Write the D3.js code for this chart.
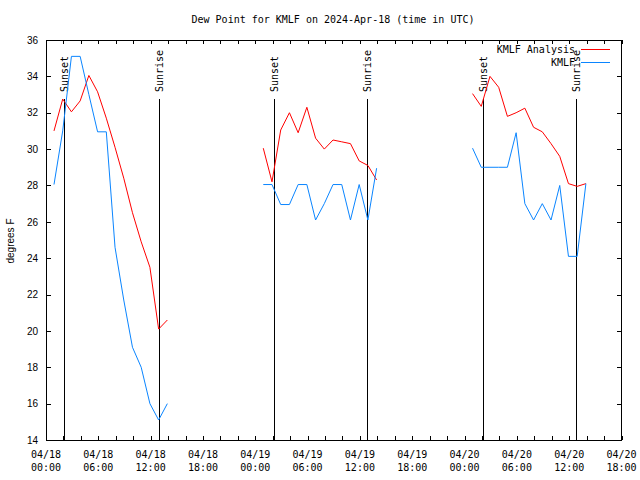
<!DOCTYPE html>
<html>
<head>
<meta charset="utf-8">
<script src="https://cdn.jsdelivr.net/npm/d3@7"></script>
<style>
  body { margin: 0; background: #fff; }
  svg { display: block; }
  .mono { font-family: "DejaVu Sans Mono", monospace; font-size: 10px; fill: #000; }
  .sans { font-family: "Liberation Sans", Arial, sans-serif; font-size: 10px; fill: #000; }
  .axis path { display: none; }
  .axis line { stroke: #000; shape-rendering: crispEdges; }
  .frame { fill: none; stroke: #000; shape-rendering: crispEdges; }
  .sunLine { stroke: #000; shape-rendering: crispEdges; }
</style>
</head>
<body>
<div id="chart"></div>
<script>
//Observation times (UTC), hourly, three evening/night stretches
var obsTimes = [
  "2024-04-18T00:55Z","2024-04-18T01:55Z","2024-04-18T02:55Z","2024-04-18T03:55Z","2024-04-18T04:55Z",
  "2024-04-18T05:55Z","2024-04-18T06:55Z","2024-04-18T07:55Z","2024-04-18T08:55Z","2024-04-18T09:55Z",
  "2024-04-18T10:55Z","2024-04-18T11:55Z","2024-04-18T12:55Z","2024-04-18T13:55Z",
  "2024-04-19T00:55Z","2024-04-19T01:55Z","2024-04-19T02:55Z","2024-04-19T03:55Z","2024-04-19T04:55Z",
  "2024-04-19T05:55Z","2024-04-19T06:55Z","2024-04-19T07:55Z","2024-04-19T08:55Z","2024-04-19T09:55Z",
  "2024-04-19T10:55Z","2024-04-19T11:55Z","2024-04-19T12:55Z","2024-04-19T13:55Z",
  "2024-04-20T00:55Z","2024-04-20T01:55Z","2024-04-20T02:55Z","2024-04-20T03:55Z","2024-04-20T04:55Z",
  "2024-04-20T05:55Z","2024-04-20T06:55Z","2024-04-20T07:55Z","2024-04-20T08:55Z","2024-04-20T09:55Z",
  "2024-04-20T10:55Z","2024-04-20T11:55Z","2024-04-20T12:55Z","2024-04-20T13:55Z"
];

//Dew point, degrees F
var analysisDew = [
  31.0, 32.75, 32.05, 32.65, 34.05, 33.15, 31.7, 30.1, 28.4, 26.5, 24.9, 23.5, 20.1, 20.6,
  30.05, 28.2, 31.05, 32.0, 30.9, 32.3, 30.6, 30.0, 30.5, 30.4, 30.3, 29.35, 29.1, 28.3,
  33.05, 32.35, 34.0, 33.4, 31.8, 32.0, 32.25, 31.2, 30.95, 30.3, 29.6, 28.1, 27.95, 28.1
];
var observedDew = [
  28.05, 31.0, 35.1, 35.1, 33.0, 30.95, 30.95, 24.6, 21.7, 19.1, 18.0, 16.0, 15.1, 16.0,
  28.05, 28.05, 26.95, 26.95, 28.05, 28.05, 26.1, 27.0, 28.05, 28.05, 26.1, 28.05, 26.1, 28.95,
  30.05, 29.0, 29.0, 29.0, 29.0, 30.9, 27.0, 26.1, 27.0, 26.1, 28.0, 24.1, 24.1, 28.1
];

//Sunset / sunrise markers
var sunEvents = ["Sunset", "Sunrise", "Sunset", "Sunrise", "Sunset", "Sunrise"];
var sunTimes = [
  "2024-04-18T02:04Z", "2024-04-18T12:58Z",
  "2024-04-19T02:09Z", "2024-04-19T12:49Z",
  "2024-04-20T02:07Z", "2024-04-20T12:47Z"
];

var yTicks = [14, 16, 18, 20, 22, 24, 26, 28, 30, 32, 34, 36];

var seriesNames = ["KMLF Analysis", "KMLF"];
var seriesColors = ["#ff0000", "#0a85ff"];

var parseTime = d3.isoParse;
var fmtDay = d3.utcFormat("%m/%d");
var fmtHour = d3.utcFormat("%H:%M");

var width = 640, height = 480;
var plotLeft = 46, plotRight = 621.5, plotTop = 40, plotBottom = 440;

var svg = d3.select("#chart").append("svg")
  .attr("width", width)
  .attr("height", height);

var xScale = d3.scaleUtc()
  .domain([parseTime("2024-04-18T00:00Z"), parseTime("2024-04-20T18:00Z")])
  .range([plotLeft, plotRight]);
var yScale = d3.scaleLinear()
  .domain([14, 36])
  .range([plotBottom, plotTop]);

// title
svg.append("text")
  .attr("class", "mono")
  .attr("text-anchor", "middle")
  .attr("x", 333)
  .attr("y", 23)
  .text("Dew Point for KMLF on 2024-Apr-18 (time in UTC)");

// y label
svg.append("text")
  .attr("class", "sans")
  .attr("font-size", "11px")
  .attr("text-anchor", "middle")
  .attr("transform", "translate(14, 241) rotate(-90)")
  .text("degrees F");

// x axes (ticks every 2h, labels every 6h)
var xTickVals = d3.utcHour.every(2).range(xScale.domain()[0], d3.utcHour.offset(xScale.domain()[1], 1));
svg.append("g")
  .attr("class", "axis")
  .attr("transform", `translate(0, ${plotBottom})`)
  .call(d3.axisBottom(xScale).tickValues(xTickVals).tickSizeInner(-4).tickSizeOuter(0).tickFormat(""));
svg.append("g")
  .attr("class", "axis")
  .attr("transform", `translate(0, ${plotTop})`)
  .call(d3.axisTop(xScale).tickValues(xTickVals).tickSizeInner(-4).tickSizeOuter(0).tickFormat(""));

var labelTicks = xTickVals.filter(function (d) { return d.getUTCHours() % 6 === 0; });
var xLabels = svg.append("g").selectAll("text")
  .data(labelTicks)
  .enter().append("text")
  .attr("class", "mono")
  .attr("text-anchor", "middle");
xLabels.append("tspan")
  .attr("x", function (d) { return xScale(d); })
  .attr("y", 458)
  .text(function (d) { return fmtDay(d); });
xLabels.append("tspan")
  .attr("x", function (d) { return xScale(d); })
  .attr("y", 471)
  .text(function (d) { return fmtHour(d); });

// y axes
svg.append("g")
  .attr("class", "axis")
  .attr("transform", `translate(${plotLeft}, 0)`)
  .call(d3.axisLeft(yScale).tickValues(yTicks).tickSizeInner(-5).tickSizeOuter(0).tickPadding(8))
  .selectAll("text")
  .attr("fill", "#000")
  .style("font-family", "'Liberation Sans', Arial, sans-serif")
  .style("font-size", "10px");
svg.append("g")
  .attr("class", "axis")
  .attr("transform", `translate(${plotRight}, 0)`)
  .call(d3.axisRight(yScale).tickValues(yTicks).tickSizeInner(-5).tickSizeOuter(0).tickFormat(""));

// frame
svg.append("rect")
  .attr("class", "frame")
  .attr("x", plotLeft + 0.5)
  .attr("y", plotTop + 0.5)
  .attr("width", plotRight - plotLeft - 1)
  .attr("height", plotBottom - plotTop);

// sunrise / sunset markers
sunTimes.forEach(function (t, i) {
  var sx = Math.round(xScale(parseTime(t))) + 0.5;
  svg.append("line")
    .attr("class", "sunLine")
    .attr("x1", sx).attr("x2", sx)
    .attr("y1", 99).attr("y2", plotBottom);
  svg.append("text")
    .attr("class", "mono")
    .attr("transform", `translate(${sx + 3.5}, 92) rotate(-90)`)
    .text(sunEvents[i]);
});

// split the hourly records into runs wherever there is a long gap
function buildRuns(values) {
  var runs = [], cur = [];
  obsTimes.forEach(function (t, i) {
    var d = parseTime(t);
    if (cur.length && (d - cur[cur.length - 1].t) > 3 * 3600e3) {
      runs.push(cur);
      cur = [];
    }
    cur.push({ t: d, v: values[i] });
  });
  if (cur.length) runs.push(cur);
  return runs;
}

var line = d3.line()
  .x(function (d) { return xScale(d.t); })
  .y(function (d) { return yScale(d.v); });

[analysisDew, observedDew].forEach(function (vals, si) {
  svg.append("g").selectAll("path")
    .data(buildRuns(vals))
    .enter().append("path")
    .attr("fill", "none")
    .attr("stroke", seriesColors[si])
    .attr("stroke-width", 1)
    .attr("d", line);
});

// legend
var legend = svg.append("g");
seriesNames.forEach(function (name, i) {
  var ly = 49.5 + i * 13;
  legend.append("text")
    .attr("class", "mono")
    .attr("text-anchor", "end")
    .attr("x", 575)
    .attr("y", ly + 3.5)
    .text(name);
  legend.append("line")
    .attr("x1", 581).attr("x2", 610)
    .attr("y1", ly).attr("y2", ly)
    .attr("stroke", seriesColors[i])
    .attr("stroke-width", 1)
    .style("shape-rendering", "crispEdges");
});
</script>
</body>
</html>
